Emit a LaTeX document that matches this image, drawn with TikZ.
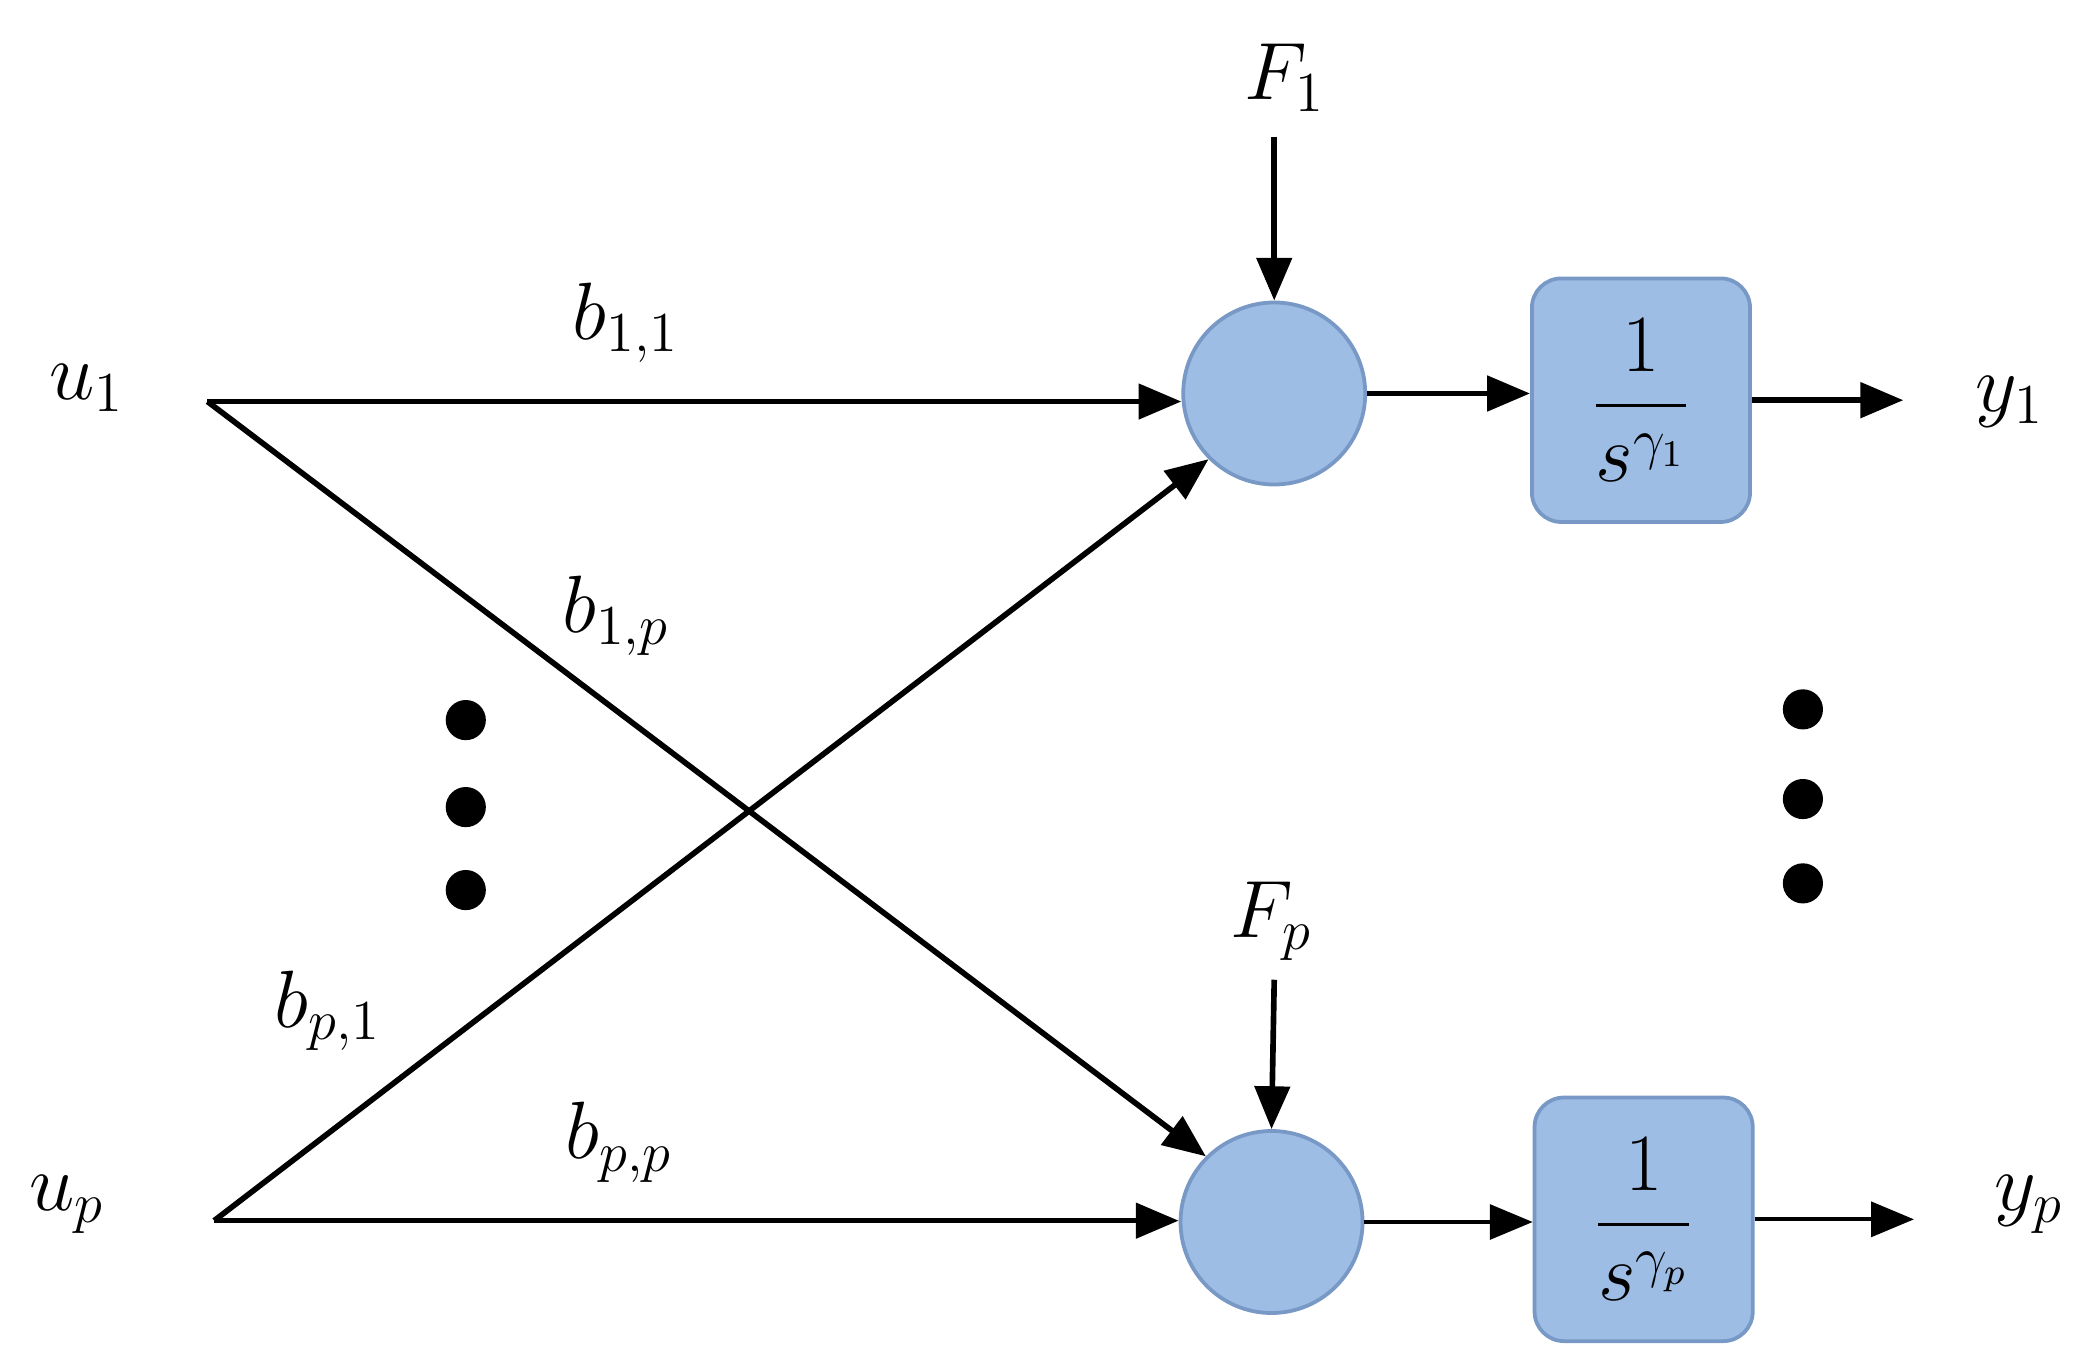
\documentclass[tikz,border=0pt]{standalone}
\usepackage{amsmath}
\usepackage{amssymb}
\usepackage{tikz}
\usetikzlibrary{arrows.meta,calc}
\definecolor{blockfill}{RGB}{157,189,229}
\definecolor{blockline}{RGB}{120,152,198}

\begin{document}
\begin{tikzpicture}[x=0.1mm,y=-0.1mm,line width=1.2pt,>={Triangle[length=3.2mm,width=2.6mm]},
    sum/.style={circle, draw=blockline, fill=blockfill, line width=0.8pt, minimum size=13.6mm, inner sep=0pt},
    tf/.style={rounded corners=2.2mm, draw=blockline, fill=blockfill, line width=0.8pt, minimum width=16.3mm, minimum height=18.2mm, inner sep=0pt, font=\fontsize{17}{20}\selectfont},
    lab/.style={font=\fontsize{17}{20}\selectfont},
    dot/.style={circle, fill=black, inner sep=0pt, minimum size=3mm}]
            \useasboundingbox (0,0) rectangle (1560,1022);
            \node[lab] (U1) at (65,290) {$ u_1 $};
            \node[lab] (Up) at (50,900) {$ u_p $};
            \coordinate (S1) at (155,300);
            \coordinate (Sp) at (160,912);
            \node[sum] (Sum1) at (952,294) {};
            \node[sum] (Sump) at (950,913) {};
            \node[tf] (G1) at (1226,299) {$\displaystyle\frac{1}{s^{\gamma_1}}$};
            \node[tf] (Gp) at (1228,911) {$\displaystyle\frac{1}{s^{\gamma_p}}$};
            \node[lab] (F1) at (960,58) {$ F_1 $};
            \node[lab] (Fp) at (950,688) {$ F_p $};
            \coordinate (F1s) at (952,102);
            \coordinate (Fps) at (952,732);
            \node[lab] (Y1) at (1502,300) {$ y_1 $};
            \node[lab] (Yp) at (1516,900) {$ y_p $};
            \coordinate (Y1e) at (1422,299);
            \coordinate (Ype) at (1430,911);
            % gains
            \draw[->] (S1) -- (S1 -| Sum1.west) node[lab, pos=0.43, above=1.5mm] {$ b_{1,1} $};
            \draw[->] (Sp) -- (Sp -| Sump.west) node[lab, pos=0.42, above=1.5mm] {$ b_{p,p} $};
            \draw[->] (S1) -- (Sump.135);
            \draw[->] (Sp) -- (Sum1.225);
            \node[lab] at (460,460) {$ b_{1,p} $};
            \node[lab] at (245,755) {$ b_{p,1} $};
            % disturbances
            \draw[->] (F1s) -- (Sum1.north);
            \draw[->] (Fps) -- (Sump.north);
            % outputs
            \draw[->] (Sum1.east) -- (G1.west |- Sum1.east);
            \draw[->] (G1.east) -- (Y1e);
            \draw[->, line width=0.8pt] (Sump.east) -- (Gp.west |- Sump.east);
            \draw[->, line width=0.8pt] (Gp.east) -- (Ype);
            % dots
            \foreach \y in {538,603,665} \node[dot] at (348,\y) {};
            \foreach \y in {530,597,660} \node[dot] at (1347,\y) {};
        \end{tikzpicture}
\end{document}
